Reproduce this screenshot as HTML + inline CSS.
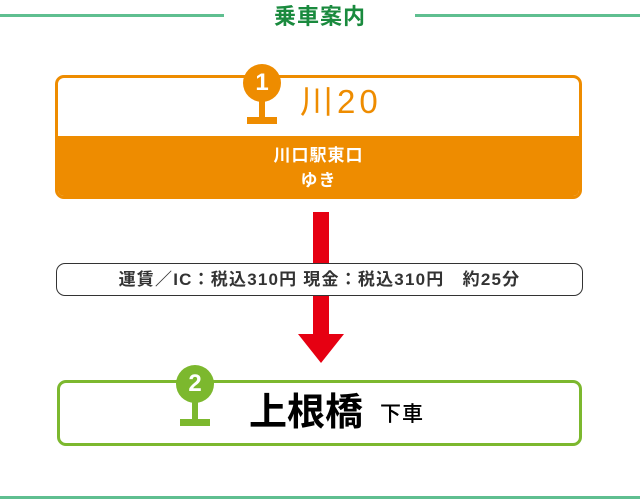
<!DOCTYPE html>
<html><head><meta charset="utf-8"><style>
body{margin:0;width:640px;height:502px;position:relative;background:#fff;overflow:hidden;font-family:"Liberation Sans","Noto Sans CJK JP",sans-serif}
div{position:absolute;box-sizing:border-box}
</style></head><body>
<div style="left:0;top:14px;width:224px;height:3px;background:#5fbf90"></div>
<div style="left:415px;top:14px;width:225px;height:3px;background:#5fbf90"></div>
<div style="left:250px;top:1px;width:140px;text-align:center;font-size:22px;font-weight:bold;color:#1a8a3e;line-height:32px;letter-spacing:1px">乗車案内</div>
<div style="left:0;top:496px;width:640px;height:3px;background:#5fbf90"></div>

<div style="left:55px;top:75px;width:527px;height:124px;border:3px solid #ee8c00;border-radius:9px;overflow:hidden">
 <div style="left:0;top:58px;width:100%;height:66px;background:#ee8c00"></div>
 <div style="left:0;top:65px;width:100%;text-align:center;color:#fff;font-weight:bold;font-size:17px;line-height:25px;letter-spacing:1px">川口駅東口<br>ゆき</div>
</div>
<div style="left:243px;top:64px;width:38px;height:38px;border-radius:50%;background:#ee8c00;color:#fff;font-weight:bold;font-size:24px;text-align:center;line-height:38px">1</div>
<div style="left:259px;top:98px;width:6px;height:20px;background:#ee8c00"></div>
<div style="left:247px;top:117px;width:30px;height:7px;background:#ee8c00"></div>
<div style="left:300px;top:81px;font-size:33px;color:#ee8c00;line-height:42px;letter-spacing:4px">川20</div>

<div style="left:313px;top:212px;width:16px;height:124px;background:#e60012"></div>
<svg style="position:absolute;left:298px;top:334px" width="46" height="29"><polygon points="0,0 46,0 23,29" fill="#e60012"/></svg>

<div style="left:56px;top:263px;width:527px;height:33px;border:1px solid #333;border-radius:9px;background:#fff;text-align:center;font-size:17px;font-weight:bold;line-height:31px;color:#333;letter-spacing:1.2px;white-space:nowrap">運賃／IC：税込310円 現金：税込310円　約25分</div>

<div style="left:57px;top:380px;width:525px;height:66px;border:3px solid #7cb82e;border-radius:9px"></div>
<div style="left:176px;top:365px;width:38px;height:38px;border-radius:50%;background:#7cb82e;color:#fff;font-weight:bold;font-size:24px;text-align:center;line-height:38px">2</div>
<div style="left:192px;top:400px;width:6px;height:20px;background:#7cb82e"></div>
<div style="left:180px;top:419px;width:30px;height:7px;background:#7cb82e"></div>
<div style="left:249px;top:390px;font-size:38px;font-weight:bold;color:#000;line-height:46px;white-space:nowrap">上根橋</div>
<div style="left:380px;top:400px;font-size:21px;font-weight:500;color:#000;line-height:30px;white-space:nowrap;letter-spacing:1px">下車</div>
</body></html>
